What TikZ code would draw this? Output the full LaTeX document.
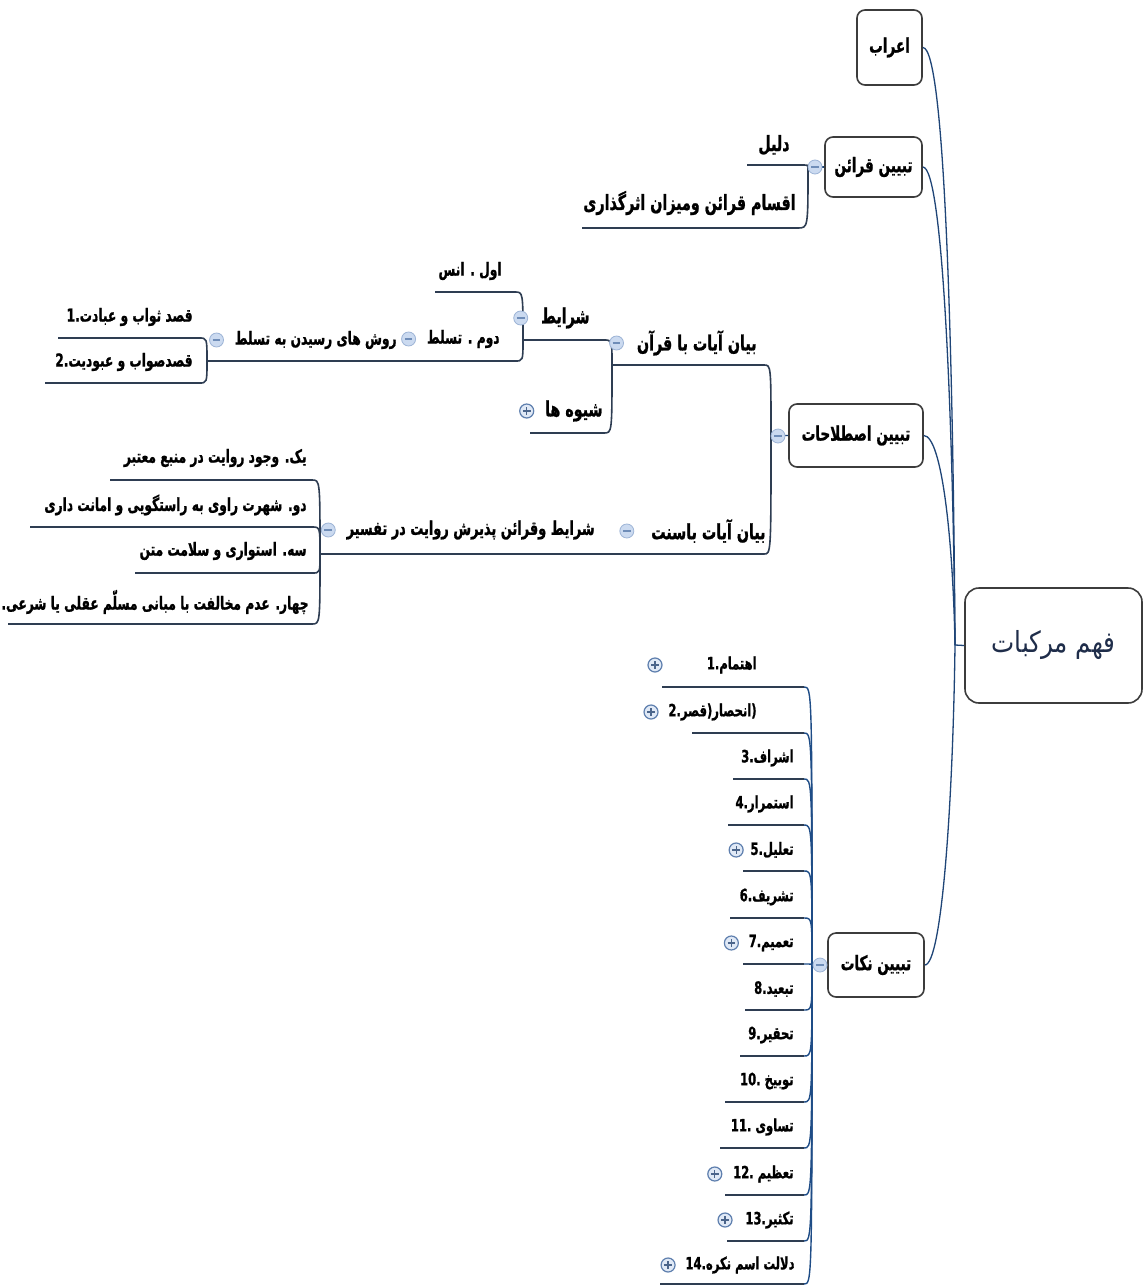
\documentclass[tikz,border=0pt]{standalone}
\usepackage{fontspec}
\TeXXeTstate=1
\newfontfamily\arf[Script=Arabic,FakeStretch=0.68,BoldFeatures={FakeBold=1}]{DejaVu Sans}
\newfontfamily\arroot[Script=Arabic,FakeStretch=0.85]{DejaVu Sans}
\newcommand\R[1]{\beginR #1\endR}
\newcommand\N[1]{\beginL #1\endL{}}
\definecolor{boxc}{HTML}{3C3C3C}
\definecolor{ulc}{HTML}{2E3D52}
\definecolor{conc}{HTML}{1F4577}
\definecolor{brc}{HTML}{1E4C86}
\definecolor{mfill}{HTML}{CBDAF0}
\definecolor{mdraw}{HTML}{9DB4D6}
\definecolor{msign}{HTML}{6F8DB8}
\definecolor{pdraw}{HTML}{5E7FAE}
\definecolor{rootc}{HTML}{1F2D4A}
\newcommand\ul[5]{\draw[uline] (#1,#2) .. controls (#1,#4) and (#1,#4) .. (#3,#4) -- (#5,#4);}
\newcommand\ulb[5]{\draw[brline] (#1,#2) .. controls (#1,#4) and (#1,#4) .. (#3,#4);\draw[uline] (#3,#4) -- (#5,#4);}
\begin{document}
\begin{tikzpicture}[x=0.5pt,y=-0.5pt,
  topbox/.style={draw=boxc, line width=0.8pt, rounded corners=4pt, fill=white, inner sep=0pt,
    font=\arf\bfseries\fontsize{10}{12}\selectfont},
  rootbox/.style={draw=boxc, line width=0.8pt, rounded corners=7pt, fill=white, inner sep=0pt,
    minimum width=88.5pt, minimum height=57.5pt, text=rootc, font=\arroot\fontsize{14.5}{17}\selectfont},
  tA/.style={inner sep=0pt, anchor=east, font=\arf\bfseries\fontsize{10.5}{12}\selectfont},
  tB/.style={inner sep=0pt, anchor=east, font=\arf\bfseries\fontsize{9.5}{11}\selectfont},
  tC/.style={inner sep=0pt, anchor=east, font=\arf\bfseries\fontsize{9}{11}\selectfont},
  tD/.style={inner sep=0pt, anchor=east, font=\arf\bfseries\fontsize{8.5}{10}\selectfont},
  uline/.style={draw=ulc, line width=0.8pt},
  brline/.style={draw=brc, line width=0.7pt},
  conn/.style={draw=conc, line width=0.65pt},
  minusc/.style={circle, draw=mdraw, fill=mfill, line width=0.4pt, minimum size=7pt, inner sep=0pt,
    path picture={\draw[msign, line width=0.6pt] ([xshift=-1.9pt]path picture bounding box.center) -- ([xshift=1.9pt]path picture bounding box.center);}},
  plusc/.style={circle, draw=pdraw, fill=mfill!60, line width=0.6pt, minimum size=7pt, inner sep=0pt,
    path picture={\draw[pdraw!80!black, line width=0.6pt] ([xshift=-1.9pt]path picture bounding box.center) -- ([xshift=1.9pt]path picture bounding box.center) ([yshift=-1.9pt]path picture bounding box.center) -- ([yshift=1.9pt]path picture bounding box.center);}}
]
\fill[white] (0,0) rectangle (1147,1285);
\useasboundingbox (0,0) rectangle (1147,1285);

% ---------- main topics ----------
\node[rootbox] (root) at (1053.5,645.5) {\R{فهم مرکبات}};
\node[topbox, minimum width=32.5pt, minimum height=37.5pt] (ebr) at (889.5,47.5) {\R{اعراب}};
\node[topbox, minimum width=48.5pt, minimum height=30pt] (qar) at (873.5,167) {\R{تبیین قرائن}};
\node[topbox, minimum width=67pt, minimum height=31.5pt] (est) at (856,435.5) {\R{تبیین اصطلاحات}};
\node[topbox, minimum width=48pt, minimum height=32pt] (nok) at (876,965) {\R{تبیین نکات}};

\coordinate (H) at (955,645);
\draw[conn] (root.west) -- (H);
\draw[conn] (ebr.east) .. controls (945,47.5) and (953,350) .. (H);
\draw[conn] (qar.east) .. controls (943,167) and (953,420) .. (H);
\draw[conn] (est.east) .. controls (942,436) and (953,540) .. (H);
\draw[conn] (nok.east) .. controls (942,965) and (953,800) .. (H);

% hubs of main topics
\coordinate (hq) at (808,167);
\coordinate (he) at (771,436);
\coordinate (hn) at (812,965);
\draw[conn] (qar.west) -- (hq);
\draw[conn] (est.west) -- (he);
\draw[conn] (nok.west) -- (hn);

% ---------- تبیین قرائن ----------
\node[tA] (dalil) at (790,145) {\R{دلیل}};
\node[tA] (aqsam) at (796,203) {\R{اقسام قرائن ومیزان اثرگذاری}};
\ul{808}{167}{800}{165}{747}
\ul{808}{167}{798}{228}{582}

% ---------- تبیین اصطلاحات ----------
\node[tA] (bq) at (757,343) {\R{بیان آیات با قرآن}};
\node[tA] (bs) at (766,531) {\R{بیان آیات باسنت}};
\ul{771}{436}{764}{365}{612}
\ul{771}{436}{764}{554}{605}
\draw[uline] (605,554) -- (320,554);

\node[tA] (shr) at (590,318) {\R{شرایط}};
\node[tA] (shv) at (603,411) {\R{شیوه ها}};
\ul{612}{365}{604}{340}{523}
\ul{612}{365}{604}{433}{530}

\node[tC] (avval) at (502,271) {\R{اول . انس}};
\node[tC] (dovom) at (500,339) {\R{دوم . تسلط}};
\ul{523}{340}{515}{292}{435}
\ul{523}{340}{515}{361}{390}
\draw[uline] (390,361) -- (207,361);

\node[tC] (ravesh) at (397,340) {\R{روش های رسیدن به تسلط}};
\node[tC] (q1) at (193,317) {\R{قصد ثواب و عبادت.\N{1}}};
\node[tC] (q2) at (193,362) {\R{قصدصواب و عبودیت.\N{2}}};
\ul{207}{361}{199}{338}{58}
\ul{207}{361}{199}{383}{45}

\node[tB] (shq) at (595,530) {\R{شرایط وقرائن پذیرش روایت در تفسیر}};
\node[tC] (y1) at (307,458) {\R{یک. وجود روایت در منبع معتبر}};
\node[tC] (y2) at (307,505) {\R{دو. شهرت راوی به راستگویی و امانت داری}};
\node[tC] (y3) at (307,551) {\R{سه. استواری و سلامت متن}};
\node[tC] (y4) at (309,602) {\R{چهار. عدم مخالفت با مبانی مسلّم عقلی یا شرعی.}};
\ul{320}{554}{312}{480}{110}
\ul{320}{554}{312}{527}{30}
\ul{320}{554}{312}{573}{135}
\ul{320}{554}{312}{624}{8}

% ---------- تبیین نکات ----------
\node[tD] (n1) at (757,665) {\R{اهتمام.\N{1}}};
\node[tD] (n2) at (757,712) {\R{(انحصار(قصر.\N{2}}};
\node[tD] (n3) at (794,758) {\R{اشراف.\N{3}}};
\node[tD] (n4) at (794,804) {\R{استمرار.\N{4}}};
\node[tD] (n5) at (794,850) {\R{تعلیل.\N{5}}};
\node[tD] (n6) at (794,897) {\R{تشریف.\N{6}}};
\node[tD] (n7) at (794,943) {\R{تعمیم.\N{7}}};
\node[tD] (n8) at (794,989) {\R{تبعید.\N{8}}};
\node[tD] (n9) at (794,1035) {\R{تحقیر.\N{9}}};
\node[tD] (n10) at (794,1081) {\R{توبیخ \N{.10}}};
\node[tD] (n11) at (794,1127) {\R{تساوی \N{.11}}};
\node[tD] (n12) at (794,1174) {\R{تعظیم \N{.12}}};
\node[tD] (n13) at (794,1220) {\R{تکثیر.\N{13}}};
\node[tD] (n14) at (795,1265) {\R{دلالت اسم نکره.\N{14}}};
\ulb{812}{965}{804}{687}{662}
\ulb{812}{965}{804}{733}{692}
\ulb{812}{965}{804}{779}{733}
\ulb{812}{965}{804}{825}{728}
\ulb{812}{965}{804}{871}{743}
\ulb{812}{965}{804}{918}{730}
\ulb{812}{965}{804}{964}{743}
\ulb{812}{965}{804}{1010}{745}
\ulb{812}{965}{804}{1056}{740}
\ulb{812}{965}{804}{1102}{725}
\ulb{812}{965}{804}{1148}{720}
\ulb{812}{965}{804}{1195}{725}
\ulb{812}{965}{804}{1241}{727}
\ulb{812}{965}{804}{1284}{660}

% ---------- collapse / expand icons ----------
\node[minusc] (iq) at (815,167) {};
\node[minusc] (ie) at (778,436) {};
\node[minusc] (in) at (820,965) {};
\node[minusc] (ibq) at ([xshift=-10pt]bq.west) {};
\node[minusc] (ibs) at ([xshift=-12pt]bs.west) {};
\node[minusc] (ishr) at ([xshift=-10pt]shr.west) {};
\node[plusc] (ishv) at ([xshift=-9pt]shv.west) {};
\node[minusc] (idov) at ([xshift=-9pt]dovom.west) {};
\node[minusc] (irav) at ([xshift=-9pt]ravesh.west) {};
\node[minusc] (ishq) at ([xshift=-9pt]shq.west) {};
\node[plusc] (in1) at (655,665) {};
\node[plusc] (in2) at ([xshift=-8.5pt]n2.west) {};
\node[plusc] (in5) at ([xshift=-7pt]n5.west) {};
\node[plusc] (in7) at ([xshift=-8.5pt]n7.west) {};
\node[plusc] (in12) at ([xshift=-9pt]n12.west) {};
\node[plusc] (in13) at ([xshift=-10pt]n13.west) {};
\node[plusc] (in14) at ([xshift=-8.5pt]n14.west) {};
\end{tikzpicture}
\end{document}
